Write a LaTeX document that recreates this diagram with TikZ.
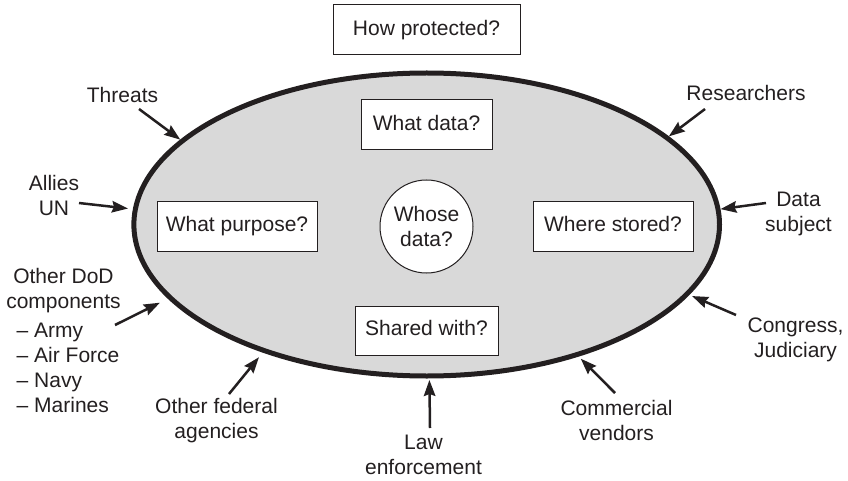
\documentclass[tikz,border=0pt]{standalone}
\usepackage{fontspec}
\setmainfont{Liberation Sans}
\usetikzlibrary{shapes.geometric,arrows.meta}
\definecolor{ellgray}{RGB}{217,217,217}
\definecolor{ink}{RGB}{35,31,32}
\tikzset{
  lbl/.style={font=\fontsize{21pt}{25pt}\selectfont, text=ink, inner sep=0pt, anchor=north, align=center},
  qbox/.style={draw=ink, line width=1pt, fill=white, font=\fontsize{21pt}{25pt}\selectfont, text=ink,
    inner sep=0pt, text height=15pt, text depth=4.5pt},
  arr/.style={draw=ink, line width=2.5pt, -{Stealth[length=16pt,width=11.5pt,inset=2pt]}}
}
\begin{document}
\begin{tikzpicture}[x=1pt,y=-1pt]
\useasboundingbox (0,0) rectangle (848,481);
% big ellipse
\node[ellipse, draw=ink, line width=5pt, fill=ellgray, minimum width=585.6pt, minimum height=303pt, inner sep=0pt] (ell) at (426.7,224.5) {};
% question boxes
\node[qbox, minimum width=187pt, minimum height=50pt] (prot) at (426.5,30) {How protected?};
\node[qbox, minimum width=131pt, minimum height=50pt] (wdata) at (426.5,125) {What data?};
\node[qbox, minimum width=160pt, minimum height=50pt] (purp) at (237,226) {What purpose?};
\node[qbox, minimum width=160pt, minimum height=50pt] (stor) at (613,226) {Where stored?};
\node[qbox, minimum width=143pt, minimum height=49pt] (shar) at (426.5,330.5) {Shared with?};
\node[circle, draw=ink, line width=1pt, fill=white, minimum size=93pt, inner sep=0pt, align=center,
  font=\fontsize{21pt}{25pt}\selectfont, text=ink] (whose) at (426.5,226.5) {Whose\\data?};
% outside labels
\node[lbl] (threats) at (122.5,87) {Threats};
\node[lbl] (research) at (746,85) {Researchers};
\node[lbl] (allies) at (54,175) {Allies\\UN};
\node[lbl] (dod) at (63.5,268) {Other DoD\\components};
\node[lbl, anchor=north west, align=left] (dodlist) at (16.5,323) {\textendash{} Army\\\textendash{} Air Force\\\textendash{} Navy\\\textendash{} Marines};
\node[lbl] (fed) at (216.5,398) {Other federal\\agencies};
\node[lbl] (law) at (423.5,435) {Law\\enforcement};
\node[lbl] (comm) at (616.5,400) {Commercial\\vendors};
\node[lbl] (cong) at (795.5,318) {Congress,\\Judiciary};
\node[lbl] (subj) at (798.5,192) {Data\\subject};
% arrow start points
\coordinate (s1) at (139,109);
\coordinate (s2) at (705,109);
\coordinate (s3) at (79,203);
\coordinate (s4) at (766,203);
\coordinate (s5) at (115,325);
\coordinate (s6) at (229,394);
\coordinate (s7) at (430,428);
\coordinate (s8) at (615,393);
\coordinate (s9) at (736,315);
% arrows
\draw[arr] (s1) -- (ell.161.65);
\draw[arr] (s2) -- (ell.20.6);
\draw[arr, shorten >=5pt] (s3) -- (ell.177.1);
\draw[arr] (s4) -- (ell.3.0);
\draw[arr, shorten >=9pt] (s5) -- (ell.196.2);
\draw[arr, shorten >=6pt] (s6) -- (ell.218.8);
\draw[arr, shorten >=1.5pt] (s7) -- (ell.271.2);
\draw[arr, shorten >=3pt] (s8) -- (ell.319.8);
\draw[arr, shorten >=3pt] (s9) -- (ell.345.3);
\end{tikzpicture}
\end{document}
